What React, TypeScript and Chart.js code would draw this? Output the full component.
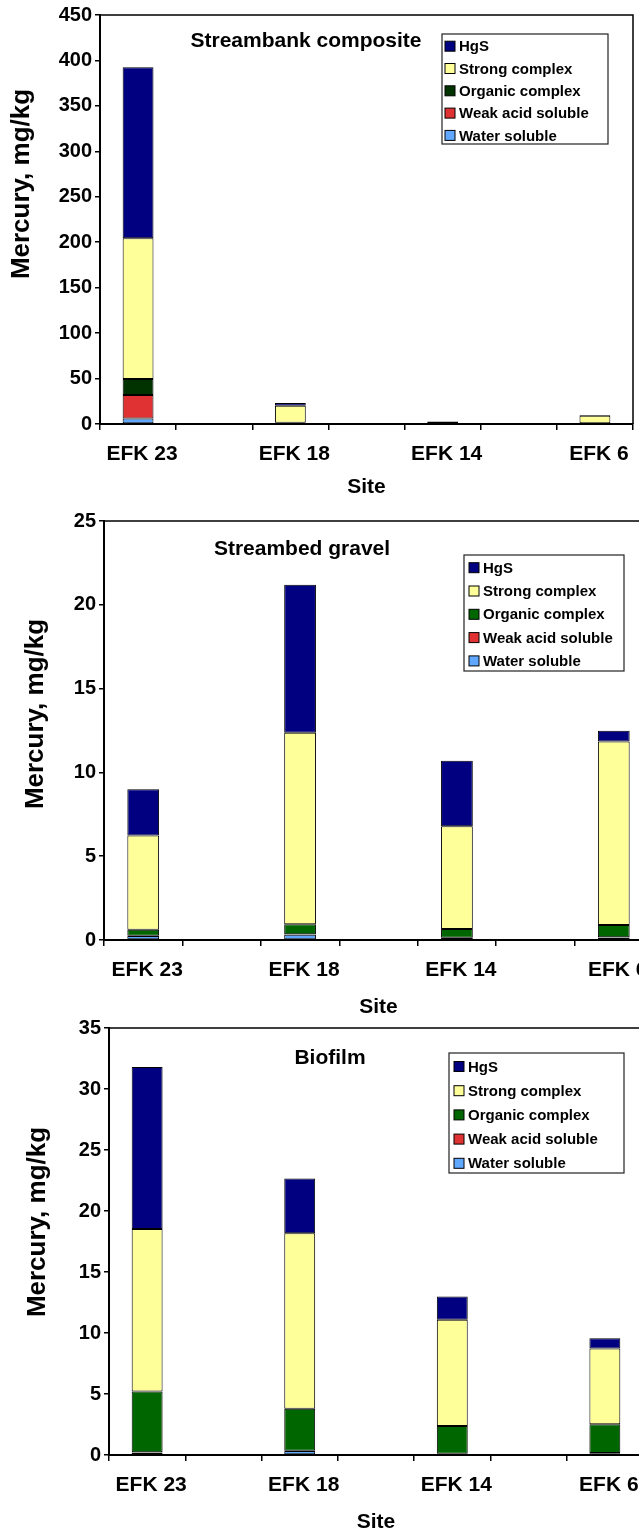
import React, { useEffect, useRef } from 'react';
import { Chart, registerables } from 'chart.js';

Chart.register(...registerables);

const FONT = '"Liberation Sans", Arial, Helvetica, sans-serif';

// Categories (blank slots between sites, as in the original)
const xLabels = ['EFK 23', '', 'EFK 18', '', 'EFK 14', '', 'EFK 6'];
const seriesNames = ['Water soluble', 'Weak acid soluble', 'Organic complex', 'Strong complex', 'HgS'];

// Streambank composite
const bankWater = [6, null, 0.3, null, 0.1, null, 0.1];
const bankWeakAcid = [26, null, 0.2, null, 0.1, null, 0.1];
const bankOrganic = [17.5, null, 1.0, null, 0.6, null, 0.5];
const bankStrong = [155, null, 18.5, null, 0.3, null, 8.3];
const bankHgS = [188, null, 3.2, null, 1.6, null, 1.0];
const bankYTicks = [0, 50, 100, 150, 200, 250, 300, 350, 400, 450];

// Streambed gravel
const gravelWater = [0.24, null, 0.32, null, 0.12, null, 0.14];
const gravelWeakAcid = [0.02, null, 0.02, null, 0.02, null, 0.02];
const gravelOrganic = [0.35, null, 0.6, null, 0.52, null, 0.74];
const gravelStrong = [5.63, null, 11.43, null, 6.12, null, 10.95];
const gravelHgS = [2.75, null, 8.83, null, 3.92, null, 0.64];
const gravelYTicks = [0, 5, 10, 15, 20, 25];

// Biofilm
const bioWater = [0.2, null, 0.33, null, 0.08, null, 0.15];
const bioWeakAcid = [0.02, null, 0.02, null, 0.02, null, 0.02];
const bioOrganic = [4.98, null, 3.44, null, 2.27, null, 2.36];
const bioStrong = [13.33, null, 14.38, null, 8.72, null, 6.19];
const bioHgS = [13.27, null, 4.5, null, 1.91, null, 0.84];
const bioYTicks = [0, 5, 10, 15, 20, 25, 30, 35];

const CANVAS_W = 700;

const decorPlugin = {
  id: 'decor',
  afterDraw(chart: any, _args: any, opts: any) {
    const ctx = chart.ctx as CanvasRenderingContext2D;
    const { left, right, top, bottom } = chart.chartArea;
    ctx.save();
    // plot-area frame (top and right)
    ctx.strokeStyle = '#000';
    ctx.lineWidth = 1.5;
    ctx.beginPath();
    ctx.moveTo(left, top);
    ctx.lineTo(right, top);
    ctx.lineTo(right, bottom);
    ctx.stroke();

    // chart title
    ctx.fillStyle = '#000';
    ctx.font = `bold 21px ${FONT}`;
    ctx.textAlign = 'center';
    ctx.textBaseline = 'alphabetic';
    ctx.fillText(opts.title, opts.titleX, opts.titleY);

    // y axis title
    ctx.save();
    ctx.translate(opts.yTitleX, opts.yTitleY);
    ctx.rotate(-Math.PI / 2);
    ctx.font = `bold 26px ${FONT}`;
    ctx.textAlign = 'center';
    ctx.textBaseline = 'middle';
    ctx.fillText('Mercury, mg/kg', 0, 0);
    ctx.restore();

    // legend
    const L = opts.legend;
    ctx.fillStyle = '#fff';
    ctx.fillRect(L.x, L.y, L.w, L.h);
    ctx.strokeStyle = '#222';
    ctx.lineWidth = 1.2;
    ctx.strokeRect(L.x, L.y, L.w, L.h);
    const ds = chart.data.datasets.slice().reverse();
    ctx.font = `bold 15px ${FONT}`;
    ctx.textAlign = 'left';
    ctx.textBaseline = 'middle';
    ds.forEach((d: any, i: number) => {
      const cy = L.y + L.first + i * L.row;
      ctx.fillStyle = d.backgroundColor;
      ctx.fillRect(L.sqX, cy - 5, 10, 10);
      ctx.strokeStyle = '#000';
      ctx.lineWidth = 1;
      ctx.strokeRect(L.sqX, cy - 5, 10, 10);
      ctx.fillStyle = '#000';
      ctx.fillText(d.label, L.textX, cy + 1);
    });
    ctx.restore();
  },
};

type PanelCfg = {
  top: number;
  height: number;
  plotTop: number;
  plotBottom: number;
  plotLeft: number;
  plotRight: number;
  series: (number | null)[][];
  colors: string[];
  yTicks: number[];
  decor: any;
};

function Panel({ cfg }: { cfg: PanelCfg }) {
  const ref = useRef<HTMLCanvasElement>(null);
  useEffect(() => {
    const canvas = ref.current!;
    const datasets = cfg.series.map((vals, i) => ({
      label: seriesNames[i],
      data: vals,
      backgroundColor: cfg.colors[i],
      borderColor: '#000',
      borderWidth: 1,
      borderSkipped: false,
      categoryPercentage: 1,
      barPercentage: 0.405,
    }));
    const yMax = cfg.yTicks[cfg.yTicks.length - 1];
    const yStep = cfg.yTicks[1] - cfg.yTicks[0];
    const chart = new Chart(canvas, {
      type: 'bar',
      data: { labels: xLabels, datasets },
      plugins: [decorPlugin],
      options: {
        animation: false,
        responsive: false,
        devicePixelRatio: 1,
        layout: {
          padding: {
            top: cfg.plotTop,
            left: 0,
            bottom: 0,
            right: CANVAS_W - cfg.plotRight,
          },
        },
        plugins: {
          legend: { display: false },
          tooltip: { enabled: false },
          decor: cfg.decor,
        } as any,
        scales: {
          x: {
            stacked: true,
            offset: true,
            afterFit: (s: any) => {
              s.height = cfg.height - cfg.plotBottom;
            },
            grid: {
              offset: true,
              drawOnChartArea: false,
              drawTicks: true,
              tickLength: 6,
              color: '#000',
              lineWidth: 1.5,
            },
            border: { color: '#000', width: 2 },
            ticks: {
              color: '#000',
              font: { family: FONT, size: 21, weight: 'bold', lineHeight: 1 },
              maxRotation: 0,
              autoSkip: false,
              padding: 14,
              labelOffset: 4,
            },
            title: {
              display: true,
              text: 'Site',
              color: '#000',
              font: { family: FONT, size: 21, weight: 'bold' },
              padding: { top: 0, bottom: 0 },
            },
          },
          y: {
            stacked: true,
            min: 0,
            max: yMax,
            afterFit: (s: any) => {
              s.width = cfg.plotLeft;
            },
            afterBuildTicks: (s: any) => {
              s.ticks = cfg.yTicks.map((v) => ({ value: v }));
            },
            grid: {
              drawOnChartArea: false,
              drawTicks: true,
              tickLength: 5,
              color: '#000',
              lineWidth: 1.5,
            },
            border: { color: '#000', width: 2 },
            ticks: {
              stepSize: yStep,
              color: '#000',
              font: { family: FONT, size: 20, weight: 'bold', lineHeight: 1 },
              padding: 3,
            },
          },
        },
      } as any,
    });
    return () => chart.destroy();
  }, [cfg]);
  return (
    <canvas
      ref={ref}
      width={CANVAS_W}
      height={cfg.height}
      style={{ position: 'absolute', left: 0, top: cfg.top, width: CANVAS_W, height: cfg.height }}
    />
  );
}

const bankColors = ['#60A8FF', '#E03232', '#003300', '#FFFF99', '#000080'];
const otherColors = ['#60A8FF', '#E03232', '#006600', '#FFFF99', '#000080'];

const panels: PanelCfg[] = [
  {
    top: 0,
    height: 500,
    plotTop: 15,
    plotBottom: 424,
    plotLeft: 100,
    plotRight: 633,
    series: [bankWater, bankWeakAcid, bankOrganic, bankStrong, bankHgS],
    colors: bankColors,
    yTicks: bankYTicks,
    decor: {
      title: 'Streambank composite',
      titleX: 306,
      titleY: 47,
      yTitleX: 22,
      yTitleY: 184,
      legend: { x: 442, y: 34, w: 166, h: 110, first: 12.2, row: 22.3, sqX: 445, textX: 459 },
    },
  },
  {
    top: 500,
    height: 520,
    plotTop: 21,
    plotBottom: 440,
    plotLeft: 104,
    plotRight: 653,
    series: [gravelWater, gravelWeakAcid, gravelOrganic, gravelStrong, gravelHgS],
    colors: otherColors,
    yTicks: gravelYTicks,
    decor: {
      title: 'Streambed gravel',
      titleX: 302,
      titleY: 55,
      yTitleX: 36,
      yTitleY: 214,
      legend: { x: 464, y: 55, w: 160, h: 116, first: 12.7, row: 23.3, sqX: 469, textX: 483 },
    },
  },
  {
    top: 1015,
    height: 520,
    plotTop: 11,
    plotBottom: 440,
    plotLeft: 109,
    plotRight: 643,
    series: [bioWater, bioWeakAcid, bioOrganic, bioStrong, bioHgS],
    colors: otherColors,
    yTicks: bioYTicks,
    decor: {
      title: 'Biofilm',
      titleX: 330,
      titleY: 49,
      yTitleX: 38,
      yTitleY: 207,
      legend: { x: 449, y: 38, w: 175, h: 120, first: 13.5, row: 24.2, sqX: 454, textX: 468 },
    },
  },
];

export default function App() {
  useEffect(() => {
    document.body.style.margin = '0';
    document.body.style.background = '#fff';
  }, []);
  return (
    <div style={{ position: 'relative', width: 639, height: 1535, overflow: 'hidden', background: '#fff' }}>
      {panels.map((p, i) => (
        <Panel key={i} cfg={p} />
      ))}
    </div>
  );
}
